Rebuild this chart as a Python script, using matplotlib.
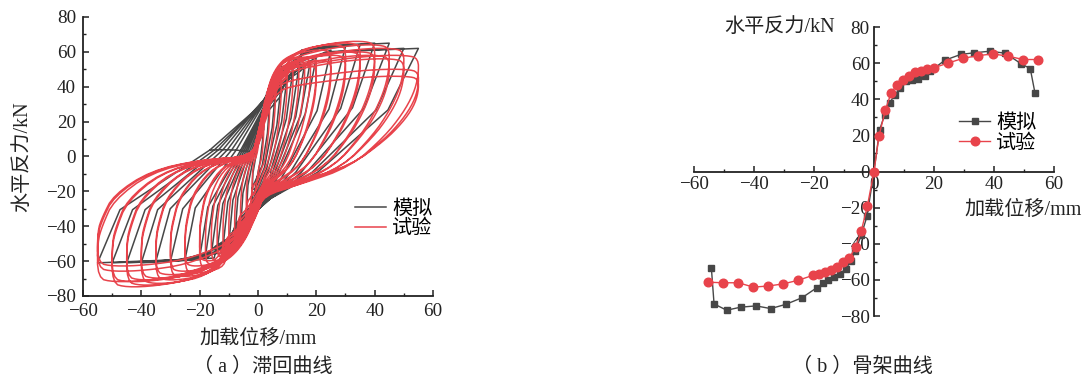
import numpy as np
import matplotlib
matplotlib.use('Agg')
import matplotlib.pyplot as plt
from matplotlib.ticker import MultipleLocator

FAM = ['Liberation Serif', 'Noto Sans CJK SC']
plt.rcParams['font.family'] = FAM
plt.rcParams['axes.unicode_minus'] = True

GRAY = '#474747'
RED = '#e8434b'

# ---------------- (a) hysteresis: cycle peaks -------------
sim_cyc_dpos = [2, 4, 6, 8, 10, 12, 14, 16, 18, 20, 25, 30, 35, 40, 45, 50, 55]
sim_cyc_fpos = [23, 31, 38, 42, 46, 50, 51, 53, 55, 57, 61, 63, 64, 65, 65, 62, 62]
sim_cyc_dneg = [2, 4, 6, 8, 10, 12, 14, 16, 18, 20, 25, 30, 35, 40, 45, 50, 55]
sim_cyc_fneg = [-19, -33, -42, -47, -50, -52, -54, -56, -57, -58, -59, -60, -60, -61, -61, -61, -61]

test_cyc_dpos = [2, 4, 6, 8, 10, 12, 14, 16, 18, 20, 20, 25, 25, 30, 30, 35, 35, 40, 40,
                 45, 45, 50, 50, 55, 55, 55]
test_cyc_fpos = [20, 33, 42, 47, 50, 52, 54, 55, 56, 57, 52, 61, 55, 64, 58, 65, 60, 66, 60,
                 64, 58, 62, 56, 58, 50, 46]
test_cyc_dneg = [2, 4, 6, 8, 10, 12, 14, 16, 18, 20, 20, 25, 25, 30, 30, 35, 35, 40, 40,
                 45, 45, 50, 50, 55, 55, 55]
test_cyc_fneg = [-22, -33, -43, -49, -53, -56, -58, -60, -62, -64, -60, -67, -63, -69, -66,
                 -71, -68, -73, -70, -74, -71, -75, -72, -72, -66, -63]

# Loop outlines.  u: fraction of the cycle's peak displacement
# (or displacement in mm where abs flag is 1), v: fraction of the cycle's peak force.
sim_up_u   = [-1.0, -0.86, -0.3, 2.0, 7.7, 14.5, 0.5, 1.0]
sim_up_abs = [0, 0, 0, 1, 1, 1, 0, 0]
sim_up_v   = [-1.0, -0.5, 0.06, 0.5, 0.75, 0.89, 0.97, 1.0]
sim_dn_u   = [0.81, 0.37, 4.0, -2.0, -7.7, -14.5, -0.5]
sim_dn_abs = [0, 0, 1, 1, 1, 1, 0]
sim_dn_v   = [0.43, -0.15, -0.4, -0.55, -0.78, -0.9, -0.97]

test_up_u   = [-1.0, -0.97, -0.9, -0.67, -0.36, -2.0, 0.0, 2.0, 4.0, 6.5, 10.0, 0.5, 0.75, 0.93, 1.0]
test_up_abs = [0, 0, 0, 0, 0, 1, 1, 1, 1, 1, 1, 0, 0, 0, 0]
test_up_v   = [-0.68, -0.55, -0.35, -0.13, -0.03, 0.0, 0.2, 0.43, 0.65, 0.78, 0.87, 0.96, 1.0, 1.0, 0.97]
test_dn_u   = [1.0, 0.97, 0.9, 0.79, 0.58, 0.27, 2.0, 0.0, -2.0, -4.0, -7.0, -11.0, -0.45, -0.7, -0.9, -1.0]
test_dn_abs = [0, 0, 0, 0, 0, 0, 1, 1, 1, 1, 1, 1, 0, 0, 0, 0]
test_dn_v   = [0.8, 0.62, 0.42, 0.2, -0.08, -0.22, -0.3, -0.42, -0.52, -0.62, -0.72, -0.8, -0.94, -0.99, -1.0, -0.97]

# ---------------- (b) skeleton curves ------------------------------------------
sim_skel_x = [-54.2, -53.3, -49.1, -44.4, -39.3, -34.4, -29.3, -24.0, -19.1, -17.1,
              -15.2, -13.3, -11.3, -9.4, -7.7, -6.2, -4.2, -2.3, 0, 1.9,
              3.6, 5.2, 6.9, 8.8, 10.8, 12.8, 14.8, 16.9, 18.8, 23.6,
              28.9, 33.2, 38.6, 43.8, 49.1, 52.1, 53.7]
sim_skel_y = [-53.3, -73.3, -76.8, -75.1, -74.4, -75.9, -73.5, -69.9, -64.4, -62.0,
              -59.8, -58.3, -56.6, -53.9, -49.7, -44.0, -35.0, -24.7, 0, 23.2,
              31.5, 38.0, 42.3, 46.3, 50.0, 50.5, 51.0, 53.0, 55.5, 61.6,
              64.8, 65.7, 66.6, 65.5, 59.6, 57.0, 43.2]
test_skel_x = [-55.2, -50.2, -45.2, -40.2, -35.2, -30.2, -25.2, -20.2, -18.2, -16.2,
               -14.2, -12.2, -10.2, -8.2, -6.1, -4.2, -2.2, 0, 1.7, 3.8,
               5.7, 7.7, 9.7, 11.7, 13.7, 15.7, 17.7, 19.9, 24.8, 29.8,
               34.8, 39.8, 44.8, 49.8, 54.8]
test_skel_y = [-61.3, -61.6, -61.6, -64.0, -63.4, -62.2, -60.2, -57.4, -56.6, -55.8,
               -54.4, -53.0, -50.2, -47.8, -41.9, -32.7, -19.2, 0, 19.9, 34.0,
               43.5, 48.0, 50.5, 52.8, 55.0, 55.9, 56.8, 57.4, 60.1, 62.7,
               64.2, 65.1, 63.8, 62.0, 62.0]

series_labels = ['模拟', '试验']
x_ticks = [-60, -40, -20, 0, 20, 40, 60]
y_ticks = [-80, -60, -40, -20, 0, 20, 40, 60, 80]


def branch(us, absf, vs, dp, fp, dn, fn, direction):
    xs, ys = [], []
    last = None
    for u, a, v in zip(us, absf, vs):
        if a:
            x = u
            if not (-0.9 * dn < x < 0.9 * dp):
                continue
        else:
            x = u * dp if u >= 0 else u * dn
        if last is not None and (x - last) * direction < 0:
            continue
        y = v * fp if v >= 0 else v * abs(fn)
        xs.append(x)
        ys.append(y)
        last = x
    return xs, ys


def chaikin_closed(x, y, n):
    x = np.asarray(x, float)
    y = np.asarray(y, float)
    for _ in range(n):
        x1, y1 = np.roll(x, -1), np.roll(y, -1)
        qx, qy = 0.75 * x + 0.25 * x1, 0.75 * y + 0.25 * y1
        rx, ry = 0.25 * x + 0.75 * x1, 0.25 * y + 0.75 * y1
        x = np.column_stack([qx, rx]).ravel()
        y = np.column_stack([qy, ry]).ravel()
    return x, y


def build(up, dn_, dps, fps, dns, fns, smooth):
    X, Y = [], []
    for dp, fp, dn, fn in zip(dps, fps, dns, fns):
        ux, uy = branch(*up, dp, fp, dn, fn, +1)
        lx, ly = branch(*dn_, dp, fp, dn, fn, -1)
        x = np.array(ux + lx, float)
        y = np.array(uy + ly, float)
        if smooth:
            x, y = chaikin_closed(x, y, smooth)
        # start each loop where the up branch passes the origin
        k = int(np.argmin(np.hypot(x, y) + 1e3 * (np.roll(y, -1) < y)))
        x = np.roll(x, -k)
        y = np.roll(y, -k)
        X.extend(list(x) + [x[0]])
        Y.extend(list(y) + [y[0]])
    return X, Y


fig = plt.figure(figsize=(10.86, 3.81), dpi=100)
axL = fig.add_axes([0.0764, 0.2231, 0.3223, 0.7323])
axR = fig.add_axes([0.639, 0.1706, 0.3315, 0.7585])

TICK_FS = 13.8
CJK_FS = 14.5
TXT = '#222222'

# ---- left panel
sx, sy = build((sim_up_u, sim_up_abs, sim_up_v), (sim_dn_u, sim_dn_abs, sim_dn_v),
               sim_cyc_dpos, sim_cyc_fpos, sim_cyc_dneg, sim_cyc_fneg, 0)
tx, ty = build((test_up_u, test_up_abs, test_up_v), (test_dn_u, test_dn_abs, test_dn_v),
               test_cyc_dpos, test_cyc_fpos, test_cyc_dneg, test_cyc_fneg, 2)
axL.plot(sx, sy, color=GRAY, lw=1.1, label=series_labels[0], zorder=2)
axL.plot(tx, ty, color=RED, lw=1.1, label=series_labels[1], zorder=3)
axL.set_xlim(-60, 60)
axL.set_ylim(-80, 80)
for s in ['top', 'right']:
    axL.spines[s].set_visible(False)
for s in ['left', 'bottom']:
    axL.spines[s].set_linewidth(1.3)
    axL.spines[s].set_color(TXT)
axL.set_xticks(x_ticks)
axL.set_yticks(y_ticks)
axL.xaxis.set_minor_locator(MultipleLocator(10))
axL.yaxis.set_minor_locator(MultipleLocator(10))
axL.tick_params(which='both', direction='in', labelsize=TICK_FS, colors=TXT)
axL.tick_params(which='major', length=4, width=1.1, pad=5)
axL.tick_params(which='minor', length=2.5, width=1.0)
axL.set_xlabel('加载位移/mm', fontsize=CJK_FS, labelpad=7, color=TXT)
axL.set_ylabel('水平反力/kN', fontsize=CJK_FS, labelpad=10, color=TXT)
axL.legend(loc='center left', bbox_to_anchor=(0.777, 0.274), frameon=False,
           fontsize=CJK_FS, handlelength=1.55, handletextpad=0.3,
           labelspacing=0.05, borderpad=0, borderaxespad=0)

# ---- right panel
axR.plot(sim_skel_x, sim_skel_y, color=GRAY, lw=1.0, marker='s', ms=4.6,
         label=series_labels[0], zorder=2)
axR.plot(test_skel_x, test_skel_y, color=RED, lw=1.0, marker='o', ms=6.2,
         label=series_labels[1], zorder=3)
axR.set_xlim(-60, 60)
axR.set_ylim(-80, 80)
for s in ['top', 'right']:
    axR.spines[s].set_visible(False)
for s in ['left', 'bottom']:
    axR.spines[s].set_position('zero')
    axR.spines[s].set_linewidth(1.3)
    axR.spines[s].set_color(TXT)
axR.set_xticks(x_ticks)
axR.set_yticks(y_ticks)
axR.xaxis.set_minor_locator(MultipleLocator(10))
axR.yaxis.set_minor_locator(MultipleLocator(10))
axR.tick_params(which='both', direction='in', labelsize=TICK_FS, colors=TXT)
axR.tick_params(which='major', length=4, width=1.1, pad=3)
axR.tick_params(which='minor', length=2.5, width=1.0)
axR.legend(loc='center left', bbox_to_anchor=(0.736, 0.63), frameon=False,
           fontsize=CJK_FS, handlelength=1.55, handletextpad=0.3,
           labelspacing=0.05, borderpad=0, borderaxespad=0)

fig.text(780 / 1086, 1 - 27 / 381, '水平反力/kN', fontsize=CJK_FS, ha='center', va='center',
         color=TXT)
fig.text(1023 / 1086, 1 - 210 / 381, '加载位移/mm', fontsize=CJK_FS, ha='center', va='center',
         color=TXT)

fig.text(263 / 1086, 1 - 367 / 381, '（ a ）滞回曲线', fontsize=CJK_FS, ha='center', va='center',
         color=TXT)
fig.text(862 / 1086, 1 - 367 / 381, '（ b ）骨架曲线', fontsize=CJK_FS, ha='center', va='center',
         color=TXT)

fig.savefig('out.png', dpi=100)
